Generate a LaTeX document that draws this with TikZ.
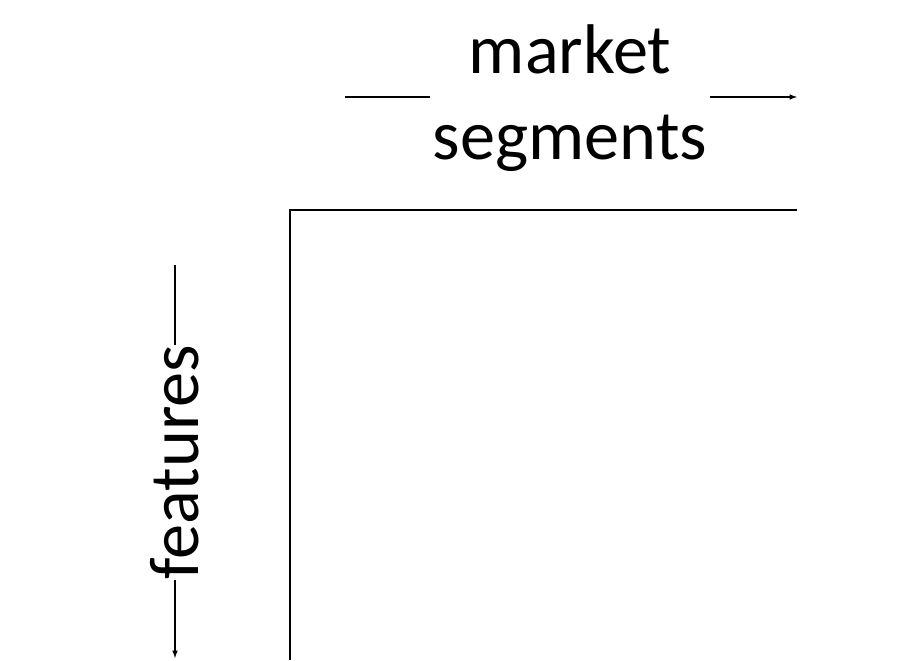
\documentclass[tikz,border=0pt]{standalone}
\usepackage{fontspec}
\setmainfont{Carlito}
\usetikzlibrary{arrows}
\tikzset
{
    axislabel/.style = {align=center, font=\fontsize{50}{61}\selectfont, inner sep=0pt},
    axisarrow/.style = {thick, ->, >=latex},
    axisline/.style  = {thick}
}
\begin{document}
\begin{tikzpicture}[x=0.025cm, y=-0.025cm]
	 \useasboundingbox (0, 0) rectangle (920, 660);

	 \node (seg)  [axislabel]             at (570, 98)  {market\\segments};
	 \node (feat) [axislabel, rotate=90]  at (175, 462) {features};

	 \coordinate (sa) at (345, 97);
	 \coordinate (sb) at (430, 97);
	 \coordinate (sc) at (710, 97);
	 \coordinate (sd) at (797, 97);
	 \coordinate (fa) at (175, 265);
	 \coordinate (fb) at (175, 345);
	 \coordinate (fc) at (175, 580);
	 \coordinate (fd) at (175, 658);

	 \coordinate (cb) at (290, 660);
	 \coordinate (cc) at (290, 210);
	 \coordinate (cr) at (797, 210);

	 \draw[axisline]  (sa) -- (sb);
	 \draw[axisarrow] (sc) -- (sd);
	 \draw[axisline]  (fa) -- (fb);
	 \draw[axisarrow] (fc) -- (fd);
	 \draw[thick] (cb) -- (cc) -- (cr);
\end{tikzpicture}
\end{document}
